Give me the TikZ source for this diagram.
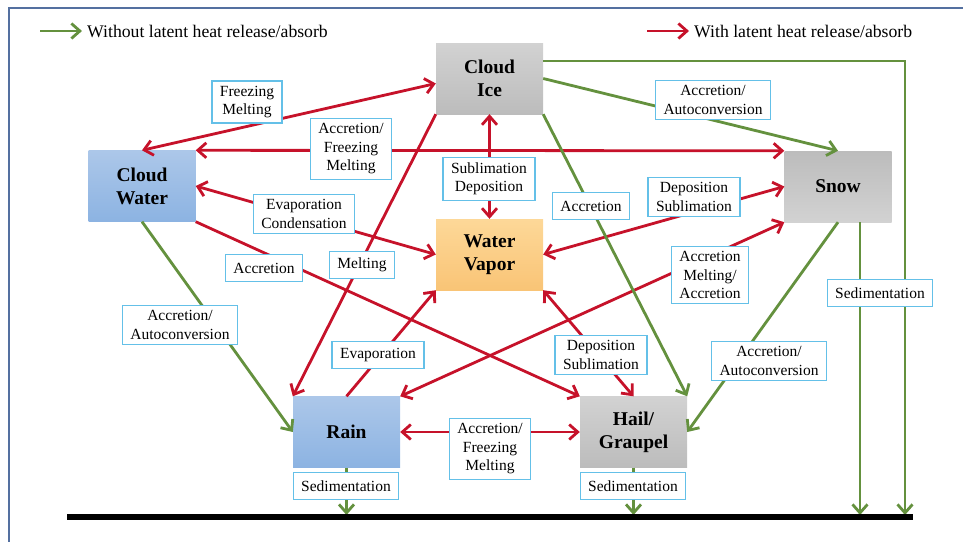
\documentclass[tikz,border=0pt]{standalone}
\usepackage{fontspec}
\setmainfont{Liberation Serif}
\usetikzlibrary{arrows.meta}

\definecolor{heatred}{RGB}{198,18,42}
\definecolor{dryg}{RGB}{100,145,62}
\definecolor{lblblue}{RGB}{100,192,232}
\definecolor{frameblue}{RGB}{84,112,160}
\definecolor{iceT}{RGB}{210,210,210}
\definecolor{iceB}{RGB}{188,188,188}
\definecolor{liqT}{RGB}{172,199,233}
\definecolor{liqB}{RGB}{140,179,226}
\definecolor{vapT}{RGB}{253,216,152}
\definecolor{vapB}{RGB}{249,196,118}

\begin{document}
\begin{tikzpicture}[x=1pt, y=-1pt, >={Straight Barb[length=8.5pt,width=15pt]},
    heat/.style={draw=heatred, line width=2.8pt},
    noheat/.style={draw=dryg, line width=2.8pt},
    species/.style={minimum width=107pt, minimum height=71pt, inner sep=0pt, align=center,
        font=\fontsize{19.5}{23}\selectfont\bfseries},
    lbl/.style={draw=lblblue, fill=white, line width=1.3pt, align=center, inner xsep=8pt,
        inner ysep=5pt, minimum height=27pt, font=\fontsize{15.5}{18.5}\selectfont},
    legend/.style={anchor=west, inner xsep=5pt, font=\fontsize{17.7}{20}\selectfont}]

    \useasboundingbox (0,0) rectangle (963,541);
    \draw[frameblue, line width=1.5pt] (975,8) -- (9,8) -- (9,560);

    % legend
    \coordinate (lgGs) at (40,31);
    \coordinate (lgRs) at (647,31);
    \node[legend] (lgG) at (82,31) {Without latent heat release/absorb};
    \node[legend] (lgR) at (689,31) {With latent heat release/absorb};
    \draw[noheat,->] (lgGs) -- (lgG.west);
    \draw[heat,->] (lgRs) -- (lgR.west);

    % species
    \node[species, top color=iceT, bottom color=iceB] (ci) at (489.5,78.5) {Cloud\\Ice};
    \node[species, top color=liqT, bottom color=liqB] (cw) at (142,186) {Cloud\\Water};
    \node[species, top color=iceB, bottom color=iceT] (sn) at (838,186.5) {Snow};
    \node[species, top color=vapT, bottom color=vapB] (wv) at (489.5,254.5) {Water\\Vapor};
    \node[species, top color=liqT, bottom color=liqB] (rn) at (346.5,432) {Rain};
    \node[species, top color=iceT, bottom color=iceB] (hg) at (633.5,432) {Hail/\\Graupel};

    % ground
    \coordinate (gl) at (67,517);
    \coordinate (gr) at (913,517);
    \coordinate (snDrop) at ([xshift=22pt]sn.south);
    \coordinate (ciDrop) at (905,517);

    % with latent heat
    \draw[heat,<->] (cw.north) -- ([yshift=-5pt]ci.west);
    \draw[heat,<->] (cw.north east) -- (sn.north west);
    \draw[heat,<->] (ci.south) -- (wv.north);
    \draw[heat,<->] (cw.east) -- (wv.west);
    \draw[heat,->] (cw.south east) -- (hg.north west);
    \draw[heat,->] (ci.south west) -- (rn.north west);
    \draw[heat,->] (rn.north) -- (wv.south west);
    \draw[heat,<->] (wv.south east) -- (hg.north);
    \draw[heat,<->] (wv.east) -- (sn.west);
    \draw[heat,<->] (rn.north east) -- (sn.south west);
    \draw[heat,<->] (rn.east) -- (hg.west);

    % without latent heat
    \draw[noheat,->] (ci.east) -- (sn.north);
    \draw[noheat,->] (ci.south east) -- (hg.north east);
    \draw[noheat,->] (cw.south) -- (rn.west);
    \draw[noheat,->] (sn.south) -- (hg.east);
    \draw[noheat,->,shorten >=2pt] (rn.south) -- (rn.south |- gl);
    \draw[noheat,->,shorten >=2pt] (hg.south) -- (hg.south |- gl);
    \draw[noheat,->,shorten >=2pt] (snDrop) -- (snDrop |- gl);
    \draw[noheat,->,shorten >=2pt] ([yshift=17.5pt]ci.east) -| (ciDrop);

    \draw[line width=5.5pt] (gl) -- (gr);

    % process labels
    \node[lbl] (fzA) at (247,102) {Freezing\\Melting};
    \node[lbl] (acA) at (351,149) {Accretion/\\Freezing\\Melting};
    \node[lbl] (sdA) at (489,179) {Sublimation\\Deposition};
    \node[lbl] (evA) at (304,214) {Evaporation\\Condensation};
    \node[lbl] (acB) at (264,268) {Accretion};
    \node[lbl] (mtA) at (362,265) {Melting};
    \node[lbl] (auA) at (713,100) {Accretion/\\Autoconversion};
    \node[lbl] (acC) at (591,206) {Accretion};
    \node[lbl] (dsA) at (694,197) {Deposition\\Sublimation};
    \node[lbl] (amA) at (710,275) {Accretion\\Melting/\\Accretion};
    \node[lbl] (sdSn) at (880,293) {Sedimentation};
    \node[lbl] (auB) at (180,325) {Accretion/\\Autoconversion};
    \node[lbl] (evB) at (378,355) {Evaporation};
    \node[lbl] (dsB) at (601,355) {Deposition\\Sublimation};
    \node[lbl] (auC) at (769,361) {Accretion/\\Autoconversion};
    \node[lbl] (acD) at (490,449) {Accretion/\\Freezing\\Melting};
    \node[lbl] (sdRn) at (346,486) {Sedimentation};
    \node[lbl] (sdHg) at (633,486) {Sedimentation};

\end{tikzpicture}
\end{document}
